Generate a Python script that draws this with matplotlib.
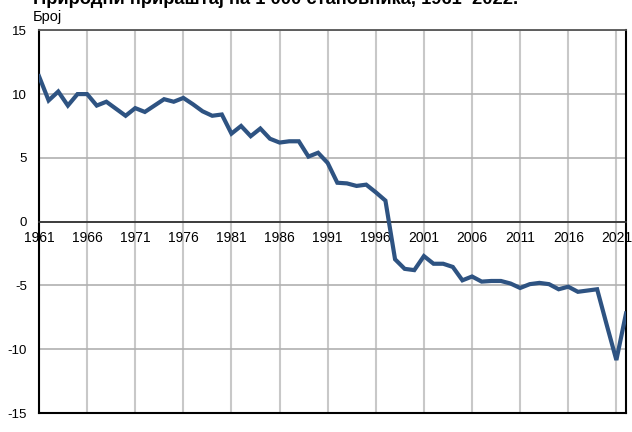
import matplotlib
matplotlib.use("Agg")
import matplotlib.pyplot as plt

plt.rcParams['font.family'] = ['Liberation Sans', 'DejaVu Sans']

years = list(range(1961, 2023))
values = [11.4, 9.5, 10.2, 9.1, 10.0, 10.0, 9.1, 9.4, 8.85, 8.3,
          8.9, 8.6, 9.1, 9.6, 9.4, 9.7, 9.2, 8.65, 8.3, 8.4,
          6.9, 7.5, 6.7, 7.3, 6.5, 6.2, 6.3, 6.3, 5.1, 5.4,
          4.6, 3.05, 3.0, 2.8, 2.9, 2.3, 1.65, -2.95, -3.7, -3.8,
          -2.7, -3.3, -3.3, -3.55, -4.6, -4.3, -4.7, -4.65, -4.65, -4.85,
          -5.2, -4.9, -4.8, -4.9, -5.3, -5.1, -5.5, -5.4, -5.3, -8.1,
          -10.85, -7.2]
xticks = list(range(1961, 2022, 5))
yticks = [-15, -10, -5, 0, 5, 10, 15]
title = "Природни прираштај на 1 000 становника, 1961–2022."
ylabel = "Број"

fig = plt.figure(figsize=(6.32, 4.32), dpi=100)
ax = fig.add_axes([39/632, 1-413/432, (626-39)/632, (413-30.3)/432])

ax.set_xlim(1961, 2022)
ax.set_ylim(-15, 15)
ax.set_xticks(xticks)
ax.set_yticks(yticks)
ax.set_xticklabels([str(t) for t in xticks], fontsize=9.5)
ax.set_yticklabels([str(t) for t in yticks], fontsize=9.5)

ax.grid(True, axis='x', color='#c8c8c8', linewidth=1.5, zorder=0)
ax.grid(True, axis='y', color='#b0b0b0', linewidth=1.2, zorder=0)
ax.set_axisbelow(True)

ax.spines['bottom'].set_position(('data', 0))
ax.spines['bottom'].set_color('#333333')
ax.spines['bottom'].set_linewidth(1.3)
ax.spines['top'].set_color('#555555')
ax.spines['top'].set_linewidth(1.3)
ax.spines['left'].set_color('black')
ax.spines['left'].set_linewidth(1.5)
ax.spines['right'].set_color('black')
ax.spines['right'].set_linewidth(1.5)
ax.axhline(-15, color='black', linewidth=1.5, clip_on=False, zorder=3)

ax.tick_params(axis='both', length=0)
ax.tick_params(axis='y', pad=8.5)
ax.tick_params(axis='x', pad=7)

ax.plot(years, values, color='#2E5382', linewidth=3.0, zorder=4,
        solid_joinstyle='miter', clip_on=True)

fig.text(33/632, 1-4/432, title, fontsize=13.2, fontweight='bold', va='baseline', ha='left')
fig.text(33/632, 1-21/432, ylabel, fontsize=10.5, va='baseline', ha='left')

fig.savefig("out.png", dpi=100)
